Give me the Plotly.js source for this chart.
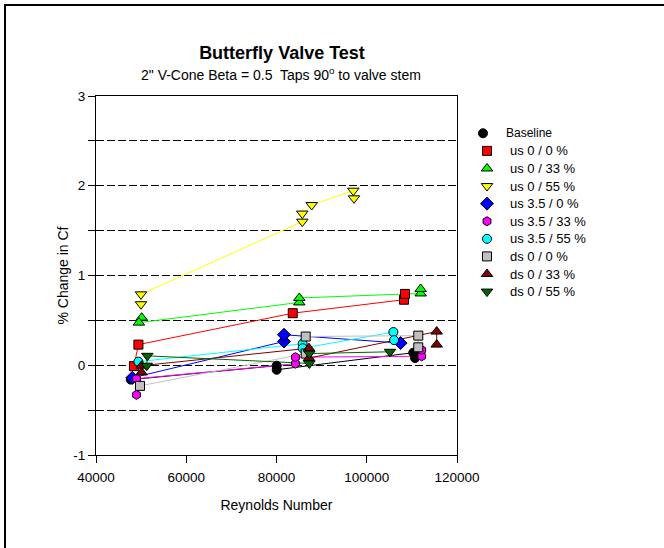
<!DOCTYPE html>
<html>
<head>
<meta charset="utf-8">
<script src="https://cdn.plot.ly/plotly-3.0.1.min.js"></script>
<style>
  html, body { margin: 0; padding: 0; background: #fff; }
  #wrap { position: relative; width: 664px; height: 548px; }
  #chart { width: 664px; height: 548px; }
  #frame { position: absolute; left: 4px; top: 4px; width: 660px; height: 544px;
           border-left: 2px solid #000; border-top: 2px solid #000; box-sizing: border-box;
           pointer-events: none; }
</style>
</head>
<body>
<div id="wrap"><div id="chart"></div><div id="frame"></div></div>
<script>
// ---- Data ----
const seriesNames = ['Baseline', 'us 0 / 0 %', 'us 0 / 33 %', 'us 0 / 55 %', 'us 3.5 / 0 %',
  'us 3.5 / 33 %', 'us 3.5 / 55 %', 'ds 0 / 0 %', 'ds 0 / 33 %', 'ds 0 / 55 %'];

const baselineRe = [47700, 80040, 80040, 110300, 110700];
const baselineCf = [-0.16, -0.005, -0.05, 0.14, 0.08];

const us00Re = [48400, 49400, 83600, 108250, 108480];
const us00Cf = [-0.01, 0.23, 0.58, 0.73, 0.795];

const us033Re = [50120, 49500, 85050, 85050, 111950, 111950];
const us033Cf = [0.53, 0.475, 0.70, 0.75, 0.80, 0.85];

const us055Re = [49970, 49970, 85720, 85720, 87800, 97020, 97180];
const us055Cf = [0.68, 0.79, 1.60, 1.69, 1.785, 1.945, 1.86];

const us350Re = [48050, 81660, 81660, 107500];
const us350Cf = [-0.14, 0.265, 0.34, 0.247];

const us3533Re = [48970, 48970, 84200, 84200, 112180, 112180];
const us3533Cf = [-0.33, -0.15, 0.017, 0.09, 0.10, 0.17];

const us3555Re = [49400, 85800, 85800, 105900, 106050];
const us3555Cf = [0.04, 0.24, 0.19, 0.37, 0.28];

const ds00Re = [49750, 86470, 86470, 111420, 111420];
const ds00Cf = [-0.23, 0.13, 0.32, 0.33, 0.20];

const ds033Re = [50100, 50100, 87200, 87200, 115500, 115500];
const ds033Cf = [-0.08, -0.005, 0.19, 0.08, 0.375, 0.23];

const ds055Re = [51240, 51370, 87280, 87280, 105150];
const ds055Cf = [-0.005, 0.105, 0.02, 0.13, 0.15];

const xTicks = [40000, 60000, 80000, 100000, 120000];
const xTickLabels = ['40000', '60000', '80000', '100000', '120000'];
const yTicks = [-1, 0, 1, 2, 3];
const yTickLabels = ['-1', '0', '1', '2', '3'];

// ---- Styles ----
const FONT = 'Liberation Sans, Arial, sans-serif';
const seriesX = [baselineRe, us00Re, us033Re, us055Re, us350Re, us3533Re, us3555Re, ds00Re, ds033Re, ds055Re];
const seriesY = [baselineCf, us00Cf, us033Cf, us055Cf, us350Cf, us3533Cf, us3555Cf, ds00Cf, ds033Cf, ds055Cf];
const fillColors = ['#000000', '#ff0000', '#00ff00', '#ffff00', '#0000ff', '#ff00ff', '#00ffff', '#c0c0c0', '#800000', '#006400'];
const lineColors = ['#000000', '#ff0000', '#00ff00', '#ffff00', '#0000ff', '#ff00ff', '#00ffff', '#c0c0c0', '#800000', '#006400'];
const symbols = ['circle', 'square', 'triangle-up', 'triangle-down', 'diamond', 'hexagon', 'circle', 'square', 'triangle-up', 'triangle-down'];
const sizes = [9, 9, 10, 10, 10, 9, 9, 9, 10, 10];

const traces = [];
// connecting lines
for (let i = 0; i < seriesNames.length; i++) {
  traces.push({
    x: seriesX[i], y: seriesY[i], type: 'scatter', mode: 'lines',
    line: { color: lineColors[i], width: 1 }, showlegend: false, hoverinfo: 'skip'
  });
}
// markers
for (let i = 0; i < seriesNames.length; i++) {
  traces.push({
    x: seriesX[i], y: seriesY[i], type: 'scatter', mode: 'markers', name: seriesNames[i],
    marker: { symbol: symbols[i], size: sizes[i], color: fillColors[i], line: { color: '#000', width: 1 } },
    showlegend: false
  });
}
// hand-drawn legend (markers in a hidden side axis, one row per series)
const legendAnnotations = [];
for (let i = 0; i < seriesNames.length; i++) {
  const isBase = i === 0;
  traces.push({
    x: [isBase ? 13 : 17], y: [i], xaxis: 'x2', yaxis: 'y2', type: 'scatter', mode: 'markers',
    marker: { symbol: symbols[i], size: sizes[i], color: fillColors[i], line: { color: '#000', width: 1 } },
    showlegend: false, hoverinfo: 'skip'
  });
  legendAnnotations.push({
    xref: 'x2', yref: 'y2', x: isBase ? 34 : 38, y: i, xanchor: 'left', yanchor: 'middle',
    text: seriesNames[i], showarrow: false,
    font: { family: FONT, size: isBase ? 12 : 13, color: '#000' }
  });
}

const gridDash = '8px,3px';
const layout = {
  width: 664, height: 548,
  margin: { l: 96, r: 4, t: 96, b: 93, pad: 0 },
  paper_bgcolor: '#fff', plot_bgcolor: '#fff',
  font: { family: FONT, size: 13.5, color: '#000' },
  showlegend: false,
  title: {
    text: '<b>Butterfly Valve Test</b>', font: { family: FONT, size: 18, color: '#000' },
    xref: 'container', x: 282 / 664, xanchor: 'center',
    yref: 'container', y: 1 - 53 / 548, yanchor: 'middle'
  },
  xaxis: {
    domain: [0, 361 / 564], range: [40000, 120000],
    tickmode: 'array', tickvals: xTicks, ticktext: xTickLabels,
    ticks: 'outside', ticklen: 7, tickwidth: 1, tickcolor: '#000', ticklabelstandoff: 3,
    showline: true, linecolor: '#000', linewidth: 1, mirror: true,
    showgrid: false, zeroline: false,
    tickfont: { family: FONT, size: 13.5, color: '#000' },
    title: { text: 'Reynolds Number', font: { family: FONT, size: 14, color: '#000' }, standoff: 15 }
  },
  yaxis: {
    range: [-1, 3], tickmode: 'array', tickvals: yTicks, ticktext: yTickLabels,
    ticks: 'outside', ticklen: 7, tickwidth: 1, tickcolor: '#000',
    showline: true, linecolor: '#000', linewidth: 1, mirror: true,
    showgrid: true, gridcolor: '#000', gridwidth: 1, griddash: gridDash,
    zeroline: false,
    minor: { dtick: 0.5, tick0: 0, ticks: 'outside', ticklen: 7, tickcolor: '#000',
             showgrid: true, gridcolor: '#000', gridwidth: 1, griddash: gridDash },
    tickfont: { family: FONT, size: 13.5, color: '#000' },
    title: { text: '% Change in Cf', font: { family: FONT, size: 14, color: '#000' }, standoff: 1 }
  },
  xaxis2: { domain: [374 / 564, 1], range: [0, 190], visible: false, anchor: 'y2', fixedrange: true },
  yaxis2: { domain: [0, 1], range: [18.29, -2.12], visible: false, anchor: 'x2', fixedrange: true },
  annotations: [
    {
      xref: 'paper', yref: 'paper', x: (280.5 - 96) / 564, y: (455 - 74) / 359,
      xanchor: 'center', yanchor: 'middle', showarrow: false,
      text: '2" V-Cone Beta = 0.5&nbsp; Taps 90<sup>o</sup> to valve stem',
      font: { family: FONT, size: 14, color: '#000' }
    }
  ].concat(legendAnnotations)
};

Plotly.newPlot('chart', traces, layout, { displayModeBar: false, staticPlot: true });
</script>
</body>
</html>
